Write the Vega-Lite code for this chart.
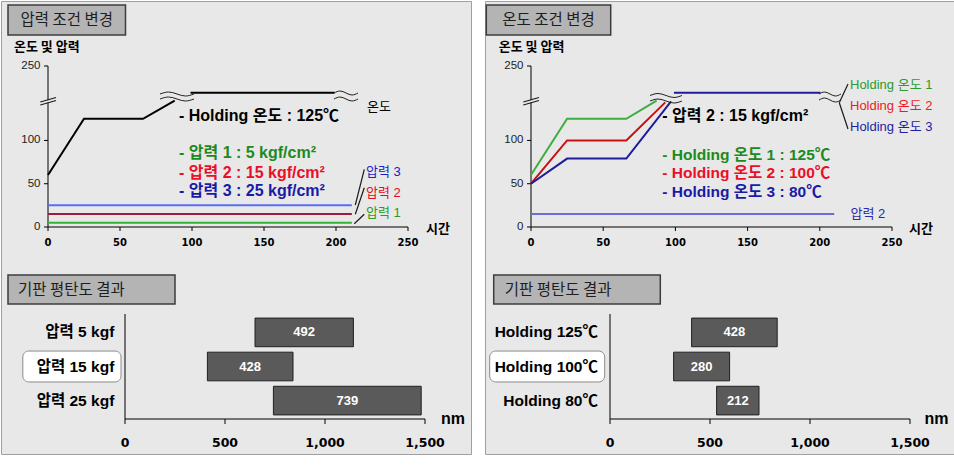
{
"$schema": "https://vega.github.io/schema/vega-lite/v6.json",
"padding": 0,
"background": "#ffffff",
"spacing": 12,
"config": {"view": {"stroke": null}, "axis": {"grid": false}, "text": {"font": "Liberation Sans, Noto Sans CJK KR"}},
"hconcat": [
{
 "width": 470, "height": 453,
 "view": {"fill": "#e8e8e8", "stroke": "#a0a0a0"},
 "resolve": {"scale": {"x": "independent", "y": "independent"}},
 "layer": [
  {
   "resolve": {"scale": {"color": "independent"}},
   "layer": [
    {
     "data": {"values": [{"t":0},{"t":50},{"t":100},{"t":150},{"t":200},{"t":250}]},
     "mark": {"type": "rule", "color": "#000", "strokeWidth": 1},
     "encoding": {"x": {"field": "t", "type": "quantitative", "scale": {"domain": [0, 250], "range": [47, 407], "nice": false, "zero": false}, "axis": null},
      "y": {"datum": 0, "type": "quantitative", "scale": {"domain": [0, 186], "range": [226, 65], "nice": false, "zero": false}, "axis": null}, "y2": {"datum": -4.62}}
    },
    {
     "data": {"values": [{"t":0},{"t":50},{"t":100},{"t":150},{"t":200},{"t":250}]},
     "mark": {"type": "text", "font": "DejaVu Sans", "fontWeight": "bold", "fontSize": 10, "color": "#000", "align": "center", "baseline": "middle"},
     "encoding": {"x": {"field": "t", "type": "quantitative", "axis": null}, "y": {"datum": -18.1, "type": "quantitative", "axis": null}, "text": {"field": "t"}}
    },
    {
     "data": {"values": [{"v":0,"lab":"0"},{"v":50,"lab":"50"},{"v":100,"lab":"100"},{"v":186,"lab":"250"}]},
     "mark": {"type": "rule", "color": "#000", "strokeWidth": 1},
     "encoding": {"y": {"field": "v", "type": "quantitative", "axis": null}, "x": {"datum": 0, "type": "quantitative", "axis": null}, "x2": {"datum": -2.78}}
    },
    {
     "data": {"values": [{"v":0,"lab":"0"},{"v":50,"lab":"50"},{"v":100,"lab":"100"},{"v":186,"lab":"250"}]},
     "mark": {"type": "text", "font": "Liberation Sans", "fontSize": 11.5, "color": "#222", "align": "right", "baseline": "middle"},
     "encoding": {"y": {"field": "v", "type": "quantitative", "axis": null}, "x": {"datum": -5.2, "type": "quantitative", "axis": null}, "text": {"field": "lab"}}
    },
    {
     "data": {"values": [{"a": "x"}]},
     "mark": {"type": "rule", "color": "#000", "strokeWidth": 1},
     "encoding": {"x": {"datum": 0, "type": "quantitative", "axis": null}, "x2": {"datum": 250}, "y": {"datum": 0, "type": "quantitative", "axis": null}}
    },
    {
     "data": {"values": [{"a": "y"}]},
     "mark": {"type": "rule", "color": "#000", "strokeWidth": 1},
     "encoding": {"x": {"datum": 0, "type": "quantitative", "axis": null}, "y": {"datum": 0, "type": "quantitative", "axis": null}, "y2": {"datum": 186}}
    },
    {
     "data": {"values": [
      {"s":"p1","t":0,"v":5},{"s":"p1","t":211,"v":5},
      {"s":"p2","t":0,"v":15},{"s":"p2","t":211,"v":15},
      {"s":"p3","t":0,"v":25},{"s":"p3","t":211,"v":25},
      {"s":"tA","t":0,"v":60},{"s":"tA","t":25,"v":125},{"s":"tA","t":66,"v":125},{"s":"tA","t":88,"v":146},
      {"s":"tB","t":99,"v":155.2},{"s":"tB","t":199,"v":155.2}
     ]},
     "mark": {"type": "line", "strokeWidth": 2},
     "encoding": {
      "x": {"field": "t", "type": "quantitative", "axis": null},
      "y": {"field": "v", "type": "quantitative", "axis": null},
      "color": {"field": "s", "type": "nominal", "scale": {"domain": ["p1","p2","p3","tA","tB"], "range": ["#33b233","#a01a3c","#5b6cf2","#000000","#000000"]}, "legend": null}
     }
    },
    {
     "data": {"values": [{"t1": -1.04, "t2": 1.04, "v1": 143.95, "v2": 146.49}]},
     "mark": {"type": "rect", "fill": "#e8e8e8"},
     "encoding": {"x": {"field": "t1", "type": "quantitative", "axis": null}, "x2": {"field": "t2"}, "y": {"field": "v1", "type": "quantitative", "axis": null}, "y2": {"field": "v2"}}
    },
    {
     "data": {"values": [
      {"t1": -5.35, "v1": 140.94, "t2": 5.56, "v2": 146.14},
      {"t1": -5.35, "v1": 144.41, "t2": 5.56, "v2": 149.61},
      {"t1": 213.4, "v1": 25.42, "t2": 219.65, "v2": 66.66},
      {"t1": 213.4, "v1": 14.67, "t2": 219.65, "v2": 45.4},
      {"t1": 212.71, "v1": 3.81, "t2": 219.65, "v2": 14.67}
     ]},
     "mark": {"type": "rule", "color": "#1a1a1a", "strokeWidth": 1.2},
     "encoding": {"x": {"field": "t1", "type": "quantitative", "axis": null}, "x2": {"field": "t2"}, "y": {"field": "v1", "type": "quantitative", "axis": null}, "y2": {"field": "v2"}}
    },
    {
     "data": {"values": [
      {"k":"a1","t":77.78,"v":153.65},{"k":"a1","t":83.68,"v":155.96},{"k":"a1","t":95.49,"v":151.34},{"k":"a1","t":101.39,"v":153.65},
      {"k":"a2","t":77.78,"v":147.87},{"k":"a2","t":83.68,"v":150.18},{"k":"a2","t":95.49,"v":145.56},{"k":"a2","t":101.39,"v":147.87},
      {"k":"b1","t":198.61,"v":154.81},{"k":"b1","t":202.78,"v":157.12},{"k":"b1","t":211.11,"v":152.5},{"k":"b1","t":215.28,"v":154.81},
      {"k":"b2","t":198.61,"v":147.87},{"k":"b2","t":202.78,"v":150.18},{"k":"b2","t":211.11,"v":145.56},{"k":"b2","t":215.28,"v":147.87}
     ]},
     "mark": {"type": "line", "interpolate": "monotone", "color": "#222222", "strokeWidth": 1},
     "encoding": {"x": {"field": "t", "type": "quantitative", "axis": null}, "y": {"field": "v", "type": "quantitative", "axis": null}, "detail": {"field": "k"}}
    },
    {
     "data": {"values": [
      {"t1": -27.78, "t2": 53.82, "v1": 256.47, "v2": 221.81},
      {"t1": -27.78, "t2": 88.19, "v1": -55.45, "v2": -88.96}
     ]},
     "mark": {"type": "rect", "fill": "#b4b4b4", "stroke": "#3c3c3c", "strokeWidth": 1.5},
     "encoding": {"x": {"field": "t1", "type": "quantitative", "axis": null}, "x2": {"field": "t2"}, "y": {"field": "v1", "type": "quantitative", "axis": null}, "y2": {"field": "v2"}}
    },
    {
     "data": {"values": [{"txt": "압력 조건 변경", "t": 13.02, "v": 239.14}]},
     "mark": {"type": "text", "font": "Noto Sans CJK KR", "fontSize": 15.5, "color": "#1e1e1e", "align": "center", "baseline": "middle"},
     "encoding": {"x": {"field": "t", "type": "quantitative", "axis": null}, "y": {"field": "v", "type": "quantitative", "axis": null}, "text": {"field": "txt"}}
    },
    {
     "data": {"values": [{"txt": "기판 평탄도 결과", "t": -20.83, "v": -72.44}]},
     "mark": {"type": "text", "font": "Noto Sans CJK KR", "fontSize": 15.5, "color": "#1e1e1e", "align": "left", "baseline": "middle"},
     "encoding": {"x": {"field": "t", "type": "quantitative", "axis": null}, "y": {"field": "v", "type": "quantitative", "axis": null}, "text": {"field": "txt"}}
    },
    {
     "data": {"values": [{"txt": "온도 및 압력", "t": -23.61, "v": 207.95}, {"txt": "시간", "t": 262.5, "v": -2.31}]},
     "mark": {"type": "text", "font": "Noto Sans CJK KR", "fontSize": 13, "fontWeight": "bold", "color": "#000", "align": "left", "baseline": "middle"},
     "encoding": {"x": {"field": "t", "type": "quantitative", "axis": null}, "y": {"field": "v", "type": "quantitative", "axis": null}, "text": {"field": "txt"}}
    },
    {
     "data": {"values": [
      {"txt": "온도", "t": 221.53, "v": 138.63, "s": "온도"},
      {"txt": "압력 3", "t": 220.83, "v": 63.54, "s": "압력 3"},
      {"txt": "압력 2", "t": 220.83, "v": 39.28, "s": "압력 2"},
      {"txt": "압력 1", "t": 220.83, "v": 15.6, "s": "압력 1"}
     ]},
     "mark": {"type": "text", "fontSize": 13, "align": "left", "baseline": "middle"},
     "encoding": {"x": {"field": "t", "type": "quantitative", "axis": null}, "y": {"field": "v", "type": "quantitative", "axis": null}, "text": {"field": "txt"},
      "color": {"field": "s", "type": "nominal", "scale": {"domain": ["온도","압력 3","압력 2","압력 1"], "range": ["#000000","#2020c8","#e0101e","#2a9a2a"]}, "legend": null}}
    },
    {
     "data": {"values": [{"txt": "- Holding 온도 : 125℃", "t": 90.97, "v": 128.24}]},
     "mark": {"type": "text", "fontSize": 16, "fontWeight": "bold", "color": "#000", "align": "left", "baseline": "middle"},
     "encoding": {"x": {"field": "t", "type": "quantitative", "axis": null}, "y": {"field": "v", "type": "quantitative", "axis": null}, "text": {"field": "txt"}}
    },
    {
     "data": {"values": [
      {"txt": "- 압력 1 : 5 kgf/cm²", "t": 90.97, "v": 85.49, "s": "1"},
      {"txt": "- 압력 2 : 15 kgf/cm²", "t": 90.97, "v": 62.38, "s": "2"},
      {"txt": "- 압력 3 : 25 kgf/cm²", "t": 90.97, "v": 41.59, "s": "3"}
     ]},
     "mark": {"type": "text", "fontSize": 16, "fontWeight": "bold", "align": "left", "baseline": "middle"},
     "encoding": {"x": {"field": "t", "type": "quantitative", "axis": null}, "y": {"field": "v", "type": "quantitative", "axis": null}, "text": {"field": "txt"},
      "color": {"field": "s", "type": "nominal", "scale": {"domain": ["1","2","3"], "range": ["#1d8a1d","#ea0f28","#1a1aa6"]}, "legend": null}}
    }
   ]
  },
  {
   "layer": [
    {
     "data": {"values": [{"n":0},{"n":500},{"n":1000},{"n":1500}]},
     "mark": {"type": "rule", "color": "#000", "strokeWidth": 1},
     "encoding": {"x": {"field": "n", "type": "quantitative", "scale": {"domain": [0, 1500], "range": [124, 424], "nice": false, "zero": false}, "axis": null},
      "y": {"datum": 0, "type": "quantitative", "scale": {"domain": [0, 1], "range": [418, 313], "nice": false, "zero": false}, "axis": null}, "y2": {"datum": -0.048}}
    },
    {
     "data": {"values": [{"n":0},{"n":500},{"n":1000},{"n":1500}]},
     "mark": {"type": "text", "font": "DejaVu Sans", "fontWeight": "bold", "fontSize": 12.5, "color": "#000", "align": "center", "baseline": "middle"},
     "encoding": {"x": {"field": "n", "type": "quantitative", "axis": null}, "y": {"datum": -0.229, "type": "quantitative", "axis": null}, "text": {"field": "n", "format": ","}}
    },
    {
     "data": {"values": [{"a": "x"}]},
     "mark": {"type": "rule", "color": "#000", "strokeWidth": 1},
     "encoding": {"x": {"datum": 0, "type": "quantitative", "axis": null}, "x2": {"datum": 1500}, "y": {"datum": 0, "type": "quantitative", "axis": null}}
    },
    {
     "data": {"values": [{"a": "y"}]},
     "mark": {"type": "rule", "color": "#000", "strokeWidth": 1},
     "encoding": {"x": {"datum": 0, "type": "quantitative", "axis": null}, "y": {"datum": 0, "type": "quantitative", "axis": null}, "y2": {"datum": 1}}
    },
    {
     "data": {"values": [{"txt": "nm"}]},
     "mark": {"type": "text", "fontSize": 16, "fontWeight": "bold", "color": "#000", "align": "left", "baseline": "middle"},
     "encoding": {"x": {"datum": 1580, "type": "quantitative", "axis": null}, "y": {"datum": 0, "type": "quantitative", "axis": null}, "text": {"field": "txt"}}
    }
   ]
  },
  {
   "layer": [
    {
     "data": {"values": [{"cat": "압력 15 kgf", "n1": -511, "n2": -20}]},
     "mark": {"type": "rect", "fill": "#ffffff", "stroke": "#8a8a8a", "strokeWidth": 1, "cornerRadius": 6, "height": {"band": 1.08}},
     "encoding": {"x": {"field": "n1", "type": "quantitative", "axis": null}, "x2": {"field": "n2"}, "y": {"field": "cat", "type": "nominal", "axis": null}}
    },
    {
     "data": {"values": [
      {"cat": "압력 5 kgf", "start": 650, "end": 1142, "val": 492},
      {"cat": "압력 15 kgf", "start": 412, "end": 840, "val": 428},
      {"cat": "압력 25 kgf", "start": 742, "end": 1481, "val": 739}
     ]},
     "mark": {"type": "bar", "fill": "#5a5a5a", "stroke": "#202020", "strokeWidth": 1},
     "encoding": {
      "x": {"field": "start", "type": "quantitative", "scale": {"domain": [0, 1500], "range": [124, 424], "nice": false, "zero": false}, "axis": null},
      "x2": {"field": "end"},
      "y": {"field": "cat", "type": "nominal", "sort": null, "scale": {"domain": ["압력 5 kgf", "압력 15 kgf", "압력 25 kgf"], "range": [313, 418], "paddingInner": 0.16, "paddingOuter": 0.12}, "axis": null}
     }
    },
    {
     "data": {"values": [
      {"cat": "압력 5 kgf", "start": 650, "end": 1142, "val": 492},
      {"cat": "압력 15 kgf", "start": 412, "end": 840, "val": 428},
      {"cat": "압력 25 kgf", "start": 742, "end": 1481, "val": 739}
     ]},
     "transform": [{"calculate": "(datum.start + datum.end) / 2", "as": "mid"}],
     "mark": {"type": "text", "font": "Liberation Sans Narrow, Liberation Sans", "fontSize": 13, "fontWeight": "bold", "color": "#ffffff", "align": "center", "baseline": "middle"},
     "encoding": {"x": {"field": "mid", "type": "quantitative", "axis": null}, "y": {"field": "cat", "type": "nominal", "axis": null}, "text": {"field": "val"}}
    },
    {
     "data": {"values": [
      {"cat": "압력 5 kgf"}, {"cat": "압력 15 kgf"}, {"cat": "압력 25 kgf"}
     ]},
     "mark": {"type": "text", "fontSize": 15.5, "fontWeight": "bold", "color": "#000", "align": "right", "baseline": "middle"},
     "encoding": {"x": {"datum": -53.5, "type": "quantitative", "axis": null}, "y": {"field": "cat", "type": "nominal", "axis": null}, "text": {"field": "cat"}}
    }
   ]
  }
 ]
},
{
 "width": 470, "height": 453,
 "view": {"fill": "#e8e8e8", "stroke": "#a0a0a0"},
 "resolve": {"scale": {"x": "independent", "y": "independent"}},
 "layer": [
  {
   "resolve": {"scale": {"color": "independent"}},
   "layer": [
    {
     "data": {"values": [{"t":0},{"t":50},{"t":100},{"t":150},{"t":200},{"t":250}]},
     "mark": {"type": "rule", "color": "#000", "strokeWidth": 1},
     "encoding": {"x": {"field": "t", "type": "quantitative", "scale": {"domain": [0, 250], "range": [46, 407], "nice": false, "zero": false}, "axis": null},
      "y": {"datum": 0, "type": "quantitative", "scale": {"domain": [0, 186], "range": [226, 65], "nice": false, "zero": false}, "axis": null}, "y2": {"datum": -4.62}}
    },
    {
     "data": {"values": [{"t":0},{"t":50},{"t":100},{"t":150},{"t":200},{"t":250}]},
     "mark": {"type": "text", "font": "DejaVu Sans", "fontWeight": "bold", "fontSize": 10, "color": "#000", "align": "center", "baseline": "middle"},
     "encoding": {"x": {"field": "t", "type": "quantitative", "axis": null}, "y": {"datum": -18.1, "type": "quantitative", "axis": null}, "text": {"field": "t"}}
    },
    {
     "data": {"values": [{"v":0,"lab":"0"},{"v":50,"lab":"50"},{"v":100,"lab":"100"},{"v":186,"lab":"250"}]},
     "mark": {"type": "rule", "color": "#000", "strokeWidth": 1},
     "encoding": {"y": {"field": "v", "type": "quantitative", "axis": null}, "x": {"datum": 0, "type": "quantitative", "axis": null}, "x2": {"datum": -2.77}}
    },
    {
     "data": {"values": [{"v":0,"lab":"0"},{"v":50,"lab":"50"},{"v":100,"lab":"100"},{"v":186,"lab":"250"}]},
     "mark": {"type": "text", "font": "Liberation Sans", "fontSize": 11.5, "color": "#222", "align": "right", "baseline": "middle"},
     "encoding": {"y": {"field": "v", "type": "quantitative", "axis": null}, "x": {"datum": -5.19, "type": "quantitative", "axis": null}, "text": {"field": "lab"}}
    },
    {
     "data": {"values": [{"a": "x"}]},
     "mark": {"type": "rule", "color": "#000", "strokeWidth": 1},
     "encoding": {"x": {"datum": 0, "type": "quantitative", "axis": null}, "x2": {"datum": 250}, "y": {"datum": 0, "type": "quantitative", "axis": null}}
    },
    {
     "data": {"values": [{"a": "y"}]},
     "mark": {"type": "rule", "color": "#000", "strokeWidth": 1},
     "encoding": {"x": {"datum": 0, "type": "quantitative", "axis": null}, "y": {"datum": 0, "type": "quantitative", "axis": null}, "y2": {"datum": 186}}
    },
    {
     "data": {"values": [
      {"s":"p2","t":0,"v":15},{"s":"p2","t":210,"v":15},
      {"s":"g","t":0,"v":60},{"s":"g","t":25,"v":125},{"s":"g","t":66,"v":125},{"s":"g","t":87,"v":146},
      {"s":"r","t":0,"v":50},{"s":"r","t":25,"v":100},{"s":"r","t":66,"v":100},{"s":"r","t":93,"v":144},
      {"s":"b","t":0,"v":50},{"s":"b","t":25,"v":79},{"s":"b","t":66,"v":79},{"s":"b","t":97,"v":145},
      {"s":"h","t":99,"v":155.2},{"s":"h","t":200.5,"v":155.2}
     ]},
     "mark": {"type": "line", "strokeWidth": 2},
     "encoding": {
      "x": {"field": "t", "type": "quantitative", "axis": null},
      "y": {"field": "v", "type": "quantitative", "axis": null},
      "color": {"field": "s", "type": "nominal", "scale": {"domain": ["p2","g","r","b","h"], "range": ["#6c6cda","#3fae3f","#c81010","#1c1c9c","#1c1c9c"]}, "legend": null}
     }
    },
    {
     "data": {"values": [{"t1": -1.04, "t2": 1.04, "v1": 143.95, "v2": 146.49}]},
     "mark": {"type": "rect", "fill": "#e8e8e8"},
     "encoding": {"x": {"field": "t1", "type": "quantitative", "axis": null}, "x2": {"field": "t2"}, "y": {"field": "v1", "type": "quantitative", "axis": null}, "y2": {"field": "v2"}}
    },
    {
     "data": {"values": [
      {"t1": -5.33, "v1": 140.94, "t2": 5.54, "v2": 146.14},
      {"t1": -5.33, "v1": 144.41, "t2": 5.54, "v2": 149.61},
      {"t1": 213.5, "v1": 143.6, "t2": 219.53, "v2": 165.2},
      {"t1": 213.5, "v1": 143.6, "t2": 219.53, "v2": 113.22}
     ]},
     "mark": {"type": "rule", "color": "#1a1a1a", "strokeWidth": 1.2},
     "encoding": {"x": {"field": "t1", "type": "quantitative", "axis": null}, "x2": {"field": "t2"}, "y": {"field": "v1", "type": "quantitative", "axis": null}, "y2": {"field": "v2"}}
    },
    {
     "data": {"values": [
      {"k":"a1","t":82.41,"v":151.92},{"k":"a1","t":87.95,"v":154.23},{"k":"a1","t":99.03,"v":149.61},{"k":"a1","t":104.57,"v":151.92},
      {"k":"a2","t":82.41,"v":145.56},{"k":"a2","t":87.95,"v":147.87},{"k":"a2","t":99.03,"v":143.25},{"k":"a2","t":104.57,"v":145.56},
      {"k":"b1","t":199.45,"v":153.65},{"k":"b1","t":203.25,"v":155.96},{"k":"b1","t":210.87,"v":151.34},{"k":"b1","t":214.68,"v":153.65},
      {"k":"b2","t":199.45,"v":146.72},{"k":"b2","t":203.25,"v":149.03},{"k":"b2","t":210.87,"v":144.41},{"k":"b2","t":214.68,"v":146.72}
     ]},
     "mark": {"type": "line", "interpolate": "monotone", "color": "#222222", "strokeWidth": 1},
     "encoding": {"x": {"field": "t", "type": "quantitative", "axis": null}, "y": {"field": "v", "type": "quantitative", "axis": null}, "detail": {"field": "k"}}
    },
    {
     "data": {"values": [
      {"t1": -30.96, "t2": 55.19, "v1": 256.47, "v2": 221.81},
      {"t1": -25.83, "t2": 89.54, "v1": -55.45, "v2": -88.96}
     ]},
     "mark": {"type": "rect", "fill": "#b4b4b4", "stroke": "#3c3c3c", "strokeWidth": 1.5},
     "encoding": {"x": {"field": "t1", "type": "quantitative", "axis": null}, "x2": {"field": "t2"}, "y": {"field": "v1", "type": "quantitative", "axis": null}, "y2": {"field": "v2"}}
    },
    {
     "data": {"values": [{"txt": "온도 조건 변경", "t": 12.12, "v": 239.14}]},
     "mark": {"type": "text", "font": "Noto Sans CJK KR", "fontSize": 15.5, "color": "#1e1e1e", "align": "center", "baseline": "middle"},
     "encoding": {"x": {"field": "t", "type": "quantitative", "axis": null}, "y": {"field": "v", "type": "quantitative", "axis": null}, "text": {"field": "txt"}}
    },
    {
     "data": {"values": [{"txt": "기판 평탄도 결과", "t": -18.21, "v": -72.44}]},
     "mark": {"type": "text", "font": "Noto Sans CJK KR", "fontSize": 15.5, "color": "#1e1e1e", "align": "left", "baseline": "middle"},
     "encoding": {"x": {"field": "t", "type": "quantitative", "axis": null}, "y": {"field": "v", "type": "quantitative", "axis": null}, "text": {"field": "txt"}}
    },
    {
     "data": {"values": [{"txt": "온도 및 압력", "t": -22.37, "v": 207.95}, {"txt": "시간", "t": 261.77, "v": -2.31}]},
     "mark": {"type": "text", "font": "Noto Sans CJK KR", "fontSize": 13, "fontWeight": "bold", "color": "#000", "align": "left", "baseline": "middle"},
     "encoding": {"x": {"field": "t", "type": "quantitative", "axis": null}, "y": {"field": "v", "type": "quantitative", "axis": null}, "text": {"field": "txt"}}
    },
    {
     "data": {"values": [
      {"txt": "Holding 온도 1", "t": 220.91, "v": 164.05, "s": "h1"},
      {"txt": "Holding 온도 2", "t": 220.91, "v": 139.79, "s": "h2"},
      {"txt": "Holding 온도 3", "t": 220.91, "v": 115.53, "s": "h3"},
      {"txt": "압력 2", "t": 221.26, "v": 15.02, "s": "p2"}
     ]},
     "mark": {"type": "text", "fontSize": 13, "align": "left", "baseline": "middle"},
     "encoding": {"x": {"field": "t", "type": "quantitative", "axis": null}, "y": {"field": "v", "type": "quantitative", "axis": null}, "text": {"field": "txt"},
      "color": {"field": "s", "type": "nominal", "scale": {"domain": ["h1","h2","h3","p2"], "range": ["#2e9a2e","#ee1a22","#1e1e9e","#2a2aa8"]}, "legend": null}}
    },
    {
     "data": {"values": [{"txt": "- 압력 2 : 15 kgf/cm²", "t": 90.93, "v": 128.24}]},
     "mark": {"type": "text", "fontSize": 16, "fontWeight": "bold", "color": "#000", "align": "left", "baseline": "middle"},
     "encoding": {"x": {"field": "t", "type": "quantitative", "axis": null}, "y": {"field": "v", "type": "quantitative", "axis": null}, "text": {"field": "txt"}}
    },
    {
     "data": {"values": [
      {"txt": "- Holding 온도 1 : 125℃", "t": 90.93, "v": 83.18, "s": "1"},
      {"txt": "- Holding 온도 2 : 100℃", "t": 90.93, "v": 62.04, "s": "2"},
      {"txt": "- Holding 온도 3 : 80℃", "t": 90.93, "v": 40.78, "s": "3"}
     ]},
     "mark": {"type": "text", "fontSize": 15.5, "fontWeight": "bold", "align": "left", "baseline": "middle"},
     "encoding": {"x": {"field": "t", "type": "quantitative", "axis": null}, "y": {"field": "v", "type": "quantitative", "axis": null}, "text": {"field": "txt"},
      "color": {"field": "s", "type": "nominal", "scale": {"domain": ["1","2","3"], "range": ["#1d8a1d","#ea0f28","#1a1aa6"]}, "legend": null}}
    }
   ]
  },
  {
   "layer": [
    {
     "data": {"values": [{"n":0},{"n":500},{"n":1000},{"n":1500}]},
     "mark": {"type": "rule", "color": "#000", "strokeWidth": 1},
     "encoding": {"x": {"field": "n", "type": "quantitative", "scale": {"domain": [0, 1500], "range": [125, 425], "nice": false, "zero": false}, "axis": null},
      "y": {"datum": 0, "type": "quantitative", "scale": {"domain": [0, 1], "range": [418, 313], "nice": false, "zero": false}, "axis": null}, "y2": {"datum": -0.048}}
    },
    {
     "data": {"values": [{"n":0},{"n":500},{"n":1000},{"n":1500}]},
     "mark": {"type": "text", "font": "DejaVu Sans", "fontWeight": "bold", "fontSize": 12.5, "color": "#000", "align": "center", "baseline": "middle"},
     "encoding": {"x": {"field": "n", "type": "quantitative", "axis": null}, "y": {"datum": -0.229, "type": "quantitative", "axis": null}, "text": {"field": "n", "format": ","}}
    },
    {
     "data": {"values": [{"a": "x"}]},
     "mark": {"type": "rule", "color": "#000", "strokeWidth": 1},
     "encoding": {"x": {"datum": 0, "type": "quantitative", "axis": null}, "x2": {"datum": 1500}, "y": {"datum": 0, "type": "quantitative", "axis": null}}
    },
    {
     "data": {"values": [{"a": "y"}]},
     "mark": {"type": "rule", "color": "#000", "strokeWidth": 1},
     "encoding": {"x": {"datum": 0, "type": "quantitative", "axis": null}, "y": {"datum": 0, "type": "quantitative", "axis": null}, "y2": {"datum": 1}}
    },
    {
     "data": {"values": [{"txt": "nm"}]},
     "mark": {"type": "text", "fontSize": 16, "fontWeight": "bold", "color": "#000", "align": "left", "baseline": "middle"},
     "encoding": {"x": {"datum": 1573, "type": "quantitative", "axis": null}, "y": {"datum": 0, "type": "quantitative", "axis": null}, "text": {"field": "txt"}}
    }
   ]
  },
  {
   "layer": [
    {
     "data": {"values": [{"cat": "Holding 100℃", "n1": -601.5, "n2": -26.5}]},
     "mark": {"type": "rect", "fill": "#ffffff", "stroke": "#8a8a8a", "strokeWidth": 1, "cornerRadius": 6, "height": {"band": 1.08}},
     "encoding": {"x": {"field": "n1", "type": "quantitative", "axis": null}, "x2": {"field": "n2"}, "y": {"field": "cat", "type": "nominal", "axis": null}}
    },
    {
     "data": {"values": [
      {"cat": "Holding 125℃", "start": 408, "end": 836, "val": 428},
      {"cat": "Holding 100℃", "start": 318, "end": 598, "val": 280},
      {"cat": "Holding 80℃", "start": 533, "end": 745, "val": 212}
     ]},
     "mark": {"type": "bar", "fill": "#5a5a5a", "stroke": "#202020", "strokeWidth": 1},
     "encoding": {
      "x": {"field": "start", "type": "quantitative", "scale": {"domain": [0, 1500], "range": [125, 425], "nice": false, "zero": false}, "axis": null},
      "x2": {"field": "end"},
      "y": {"field": "cat", "type": "nominal", "sort": null, "scale": {"domain": ["Holding 125℃", "Holding 100℃", "Holding 80℃"], "range": [313, 418], "paddingInner": 0.16, "paddingOuter": 0.12}, "axis": null}
     }
    },
    {
     "data": {"values": [
      {"cat": "Holding 125℃", "start": 408, "end": 836, "val": 428},
      {"cat": "Holding 100℃", "start": 318, "end": 598, "val": 280},
      {"cat": "Holding 80℃", "start": 533, "end": 745, "val": 212}
     ]},
     "transform": [{"calculate": "(datum.start + datum.end) / 2", "as": "mid"}],
     "mark": {"type": "text", "font": "Liberation Sans Narrow, Liberation Sans", "fontSize": 13, "fontWeight": "bold", "color": "#ffffff", "align": "center", "baseline": "middle"},
     "encoding": {"x": {"field": "mid", "type": "quantitative", "axis": null}, "y": {"field": "cat", "type": "nominal", "axis": null}, "text": {"field": "val"}}
    },
    {
     "data": {"values": [
      {"cat": "Holding 125℃"}, {"cat": "Holding 100℃"}, {"cat": "Holding 80℃"}
     ]},
     "mark": {"type": "text", "fontSize": 15.5, "fontWeight": "bold", "color": "#000", "align": "right", "baseline": "middle"},
     "encoding": {"x": {"datum": -60, "type": "quantitative", "axis": null}, "y": {"field": "cat", "type": "nominal", "axis": null}, "text": {"field": "cat"}}
    }
   ]
  }
 ]
}
]
}
